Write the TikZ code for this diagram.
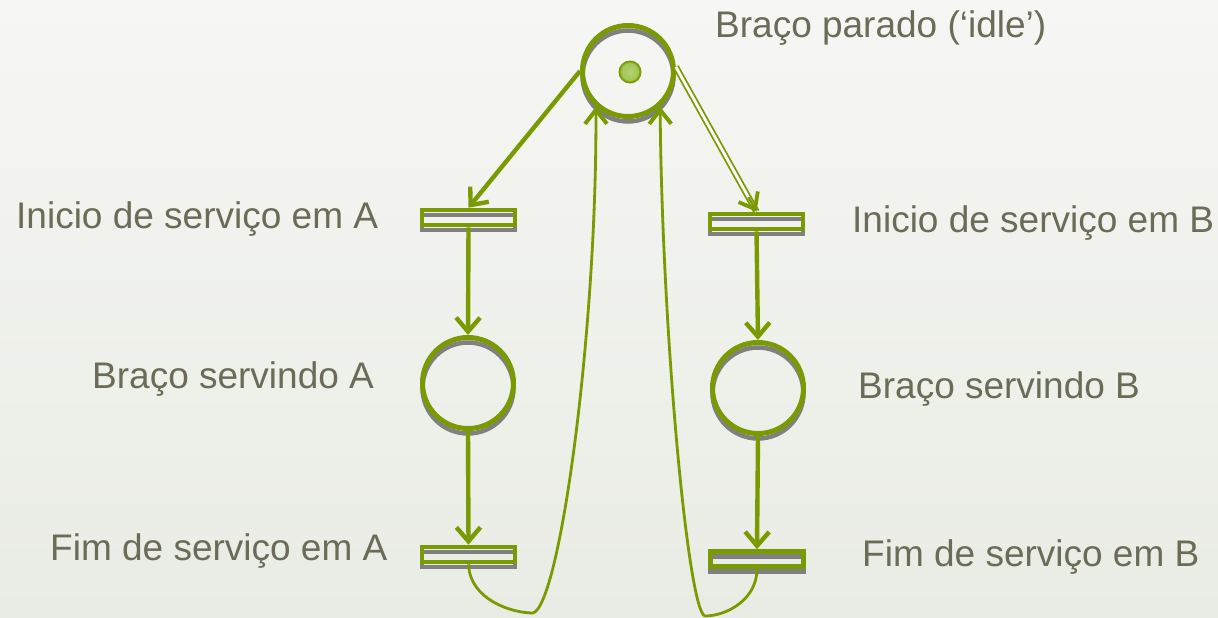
\documentclass[tikz,border=0pt]{standalone}
\usepackage{fontspec}
\setmainfont{Liberation Sans}
\usetikzlibrary{arrows.meta,calc}
\definecolor{pgreen}{HTML}{7A9A01}
\definecolor{tokgreen}{HTML}{9CC24C}
\definecolor{ptext}{HTML}{6B6B58}
\definecolor{pshadow}{HTML}{808080}
\definecolor{bgtop}{HTML}{F6F6F4}
\definecolor{bgbot}{HTML}{E9ECE4}
\begin{document}
\begin{tikzpicture}[x=1pt,y=-1pt,
  shadowed/.style={preaction={draw=pshadow, line width=4.5pt, transform canvas={yshift=-5pt}}},
  place/.style={circle, draw=pgreen, line width=5pt, minimum size=91pt, inner sep=0pt, shadowed},
  trans/.style={rectangle, draw=pgreen, line width=4.6pt, minimum width=93pt, minimum height=15pt, inner sep=0pt, shadowed},
  txt/.style={text=ptext, font=\fontsize{37}{40}\selectfont, anchor=base west, inner sep=0pt},
  arc/.style={draw=pgreen, line width=4.4pt, -{Straight Barb[length=14pt,width=24pt]}},
  darc/.style={draw=pgreen, line width=1.8pt, double=white, double distance=2.8pt},
  tiponly/.style={draw=pgreen, line width=2.5pt, -{Straight Barb[length=14pt,width=22pt,line width=3.8pt]}},
  curvearc/.style={draw=pgreen, line width=2.8pt, -{Straight Barb[length=14pt,width=22pt,line width=4pt]}},
  token/.style={circle, draw=pgreen!90!tokgreen, line width=2pt, inner color=tokgreen!75!white, outer color=tokgreen, minimum size=21pt, inner sep=0pt}
]
\useasboundingbox (0,0) rectangle (1218,618);
\shade[top color=bgtop, bottom color=bgbot] (0,0) rectangle (1218,618);

% places and transitions
\node[place] (idle) at (628,71) {};
\node[token] (tok) at (630,72) {};
\node[trans] (sA) at (468.5,217.5) {};
\node[trans] (sB) at (756.5,221.5) {};
\node[place] (pA) at (468,383) {};
\node[place] (pB) at (758,388) {};
\node[trans] (fA) at (468.5,554.5) {};
\node[trans] (fB) at (757,559) {};

% labels
\node[txt] (lidle) at (715,38) {Braço parado (‘idle’)};
\node[txt] (lsA) at (16,228) {Inicio de serviço em A};
\node[txt] (lsB) at (852,232) {Inicio de serviço em B};
\node[txt] (lpA) at (92,388) {Braço servindo A};
\node[txt] (lpB) at (858,398) {Braço servindo B};
\node[txt] (lfA) at (50,560) {Fim de serviço em A};
\node[txt] (lfB) at (862,566) {Fim de serviço em B};

% arcs
\draw[arc] (idle.180) -- (sA.north);
\draw[darc] (idle.5) -- (sB.north);
\draw[tiponly] ($(sB.north)!0.1!(idle.5)$) -- (sB.north);
\draw[arc] (sA.south) -- (pA.north);
\draw[arc] (pA.south) -- (fA.north);
\draw[arc] (sB.south) -- (pB.north);
\draw[arc] (pB.south) -- (fB.north);
\draw[curvearc] (fA.south) .. controls (470,600) and (512,613) .. (533,613)
  .. controls (560,605) and (597,330) .. (idle.228);
\draw[curvearc] (fB.south) .. controls (757,600) and (726,616) .. (705,616)
  .. controls (688,612) and (662,330) .. (idle.312);
\end{tikzpicture}
\end{document}
